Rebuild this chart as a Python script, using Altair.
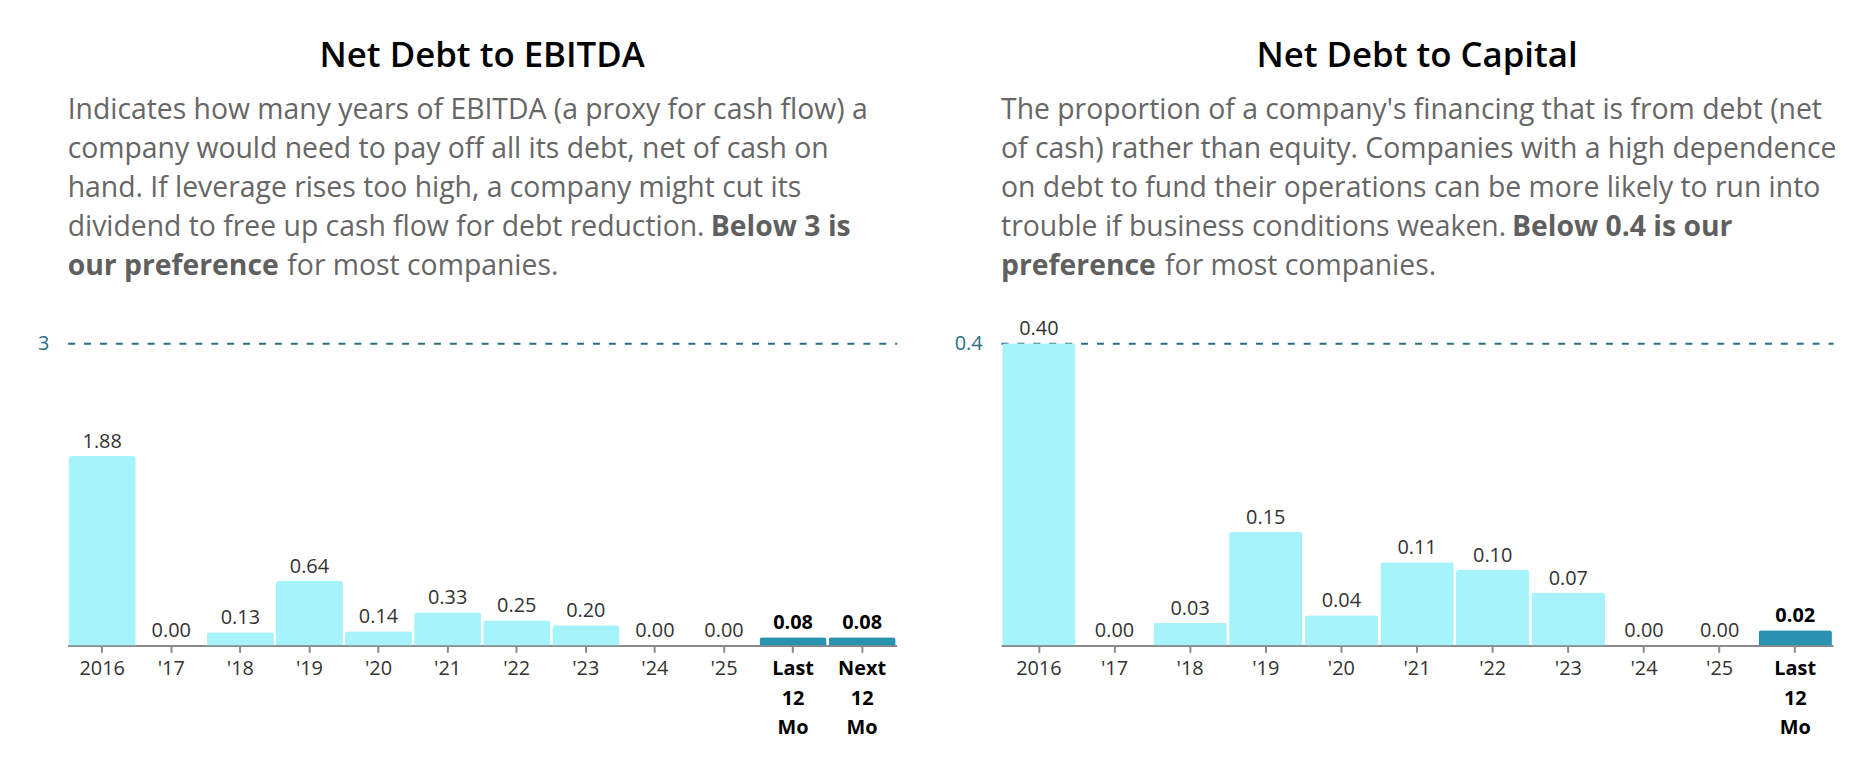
import altair as alt
import pandas as pd

# data
cats_ebitda = ["2016", "'17", "'18", "'19", "'20", "'21", "'22", "'23", "'24", "'25", "Last 12 Mo", "Next 12 Mo"]
vals_ebitda = [1.88, 0.00, 0.13, 0.64, 0.14, 0.33, 0.25, 0.20, 0.00, 0.00, 0.08, 0.08]

cats_capital = ["2016", "'17", "'18", "'19", "'20", "'21", "'22", "'23", "'24", "'25", "Last 12 Mo"]
vals_capital = [0.40, 0.00, 0.03, 0.15, 0.04, 0.11, 0.10, 0.07, 0.00, 0.00, 0.02]

highlight = ["Last 12 Mo", "Next 12 Mo"]

desc_ebitda = [
    "Indicates how many years of EBITDA (a proxy for cash flow) a",
    "company would need to pay off all its debt, net of cash on",
    "hand. If leverage rises too high, a company might cut its",
    "dividend to free up cash flow for debt reduction.",
]
desc_capital = [
    "The proportion of a company's financing that is from debt (net",
    "of cash) rather than equity. Companies with a high dependence",
    "on debt to fund their operations can be more likely to run into",
    "trouble if business conditions weaken.",
]

FONT = "Open Sans"
LIGHT = "#a6f3fc"
DARK = "#2892b1"
TEAL = "#2b6d84"
GREY_TXT = "#666666"
DESC_SIZE = 28.5
one = alt.Data(values=[{}])


def txt(s, x, y, size, weight, color, align="left"):
    return alt.Chart(one).mark_text(
        align=align, baseline="alphabetic", font=FONT, fontSize=size,
        fontWeight=weight, color=color, lineHeight=39.3
    ).encode(x=alt.value(x), y=alt.value(y), text=alt.value(s))


def panel(cats, vals, limit, title, desc, bold1, bold1_x, bold2, rest, rest_x, width):
    df = pd.DataFrame({"cat": cats, "val": vals})
    df["hl"] = df["cat"].isin(highlight)
    test = "indexof(%s, datum.value) >= 0" % str(highlight)

    x = alt.X("cat:N", sort=cats, title=None,
              scale=alt.Scale(paddingInner=0.03, paddingOuter=0.015),
              axis=alt.Axis(labelAngle=0, labelFont=FONT, labelFontSize=20,
                            labelExpr="split(datum.label, ' ')", labelLineHeight=30,
                            labelColor={"condition": {"test": test, "value": "#000000"}, "value": "#333333"},
                            labelFontWeight={"condition": {"test": test, "value": "bold"}, "value": "normal"},
                            domainColor="#8a8a8a", domainWidth=2, tickColor="#8a8a8a",
                            tickWidth=2, tickSize=7, labelPadding=6))
    y = alt.Y("val:Q", title=None,
              scale=alt.Scale(domain=[0, limit], nice=False),
              axis=alt.Axis(values=[limit], grid=True, gridDash=[7, 9], gridColor=TEAL,
                            gridWidth=2, domain=False, ticks=False, tickSize=0,
                            labelPadding=19, labelFont=FONT, labelFontSize=20,
                            labelColor=TEAL))

    base = alt.Chart(df)
    bars = base.mark_bar(cornerRadiusTopLeft=3, cornerRadiusTopRight=3).encode(
        x=x, y=y,
        color=alt.condition("datum.hl", alt.value(DARK), alt.value(LIGHT)),
    )
    lab = base.transform_filter("!datum.hl").mark_text(
        baseline="alphabetic", dy=-8, font=FONT, fontSize=20, color="#333333"
    ).encode(x=x, y=y, text=alt.Text("val:Q", format=".2f"))
    lab_b = base.transform_filter("datum.hl").mark_text(
        baseline="alphabetic", dy=-8, font=FONT, fontSize=20, fontWeight="bold", color="#000000"
    ).encode(x=x, y=y, text=alt.Text("val:Q", format=".2f"))

    texts = [
        txt(title, width / 2, -278, 35, 600, "#000000", align="center"),
        txt(desc, 0, -226, DESC_SIZE, "normal", GREY_TXT),
        txt(bold1, bold1_x, -108, DESC_SIZE, "bold", "#5f5f5f"),
        txt(bold2, 0, -69, DESC_SIZE, "bold", "#5f5f5f"),
        txt(rest, rest_x, -69, DESC_SIZE, "normal", GREY_TXT),
    ]
    return alt.layer(bars, lab, lab_b, *texts).properties(width=width, height=304)


left = panel(cats_ebitda, vals_ebitda, 3, "Net Debt to EBITDA", desc_ebitda,
             "Below 3 is", 647, "our preference", "for most companies.", 221, 834)
right = panel(cats_capital, vals_capital, 0.4, "Net Debt to Capital", desc_capital,
              "Below 0.4 is our", 514, "preference", "for most companies.", 165, 837)

chart = alt.hconcat(left, right, spacing=57).properties(
    padding={"left": 29, "top": 29, "right": 5, "bottom": 5}
).configure_view(strokeWidth=0)

chart.save("out.html", embed_options={"renderer": "svg", "actions": False})
